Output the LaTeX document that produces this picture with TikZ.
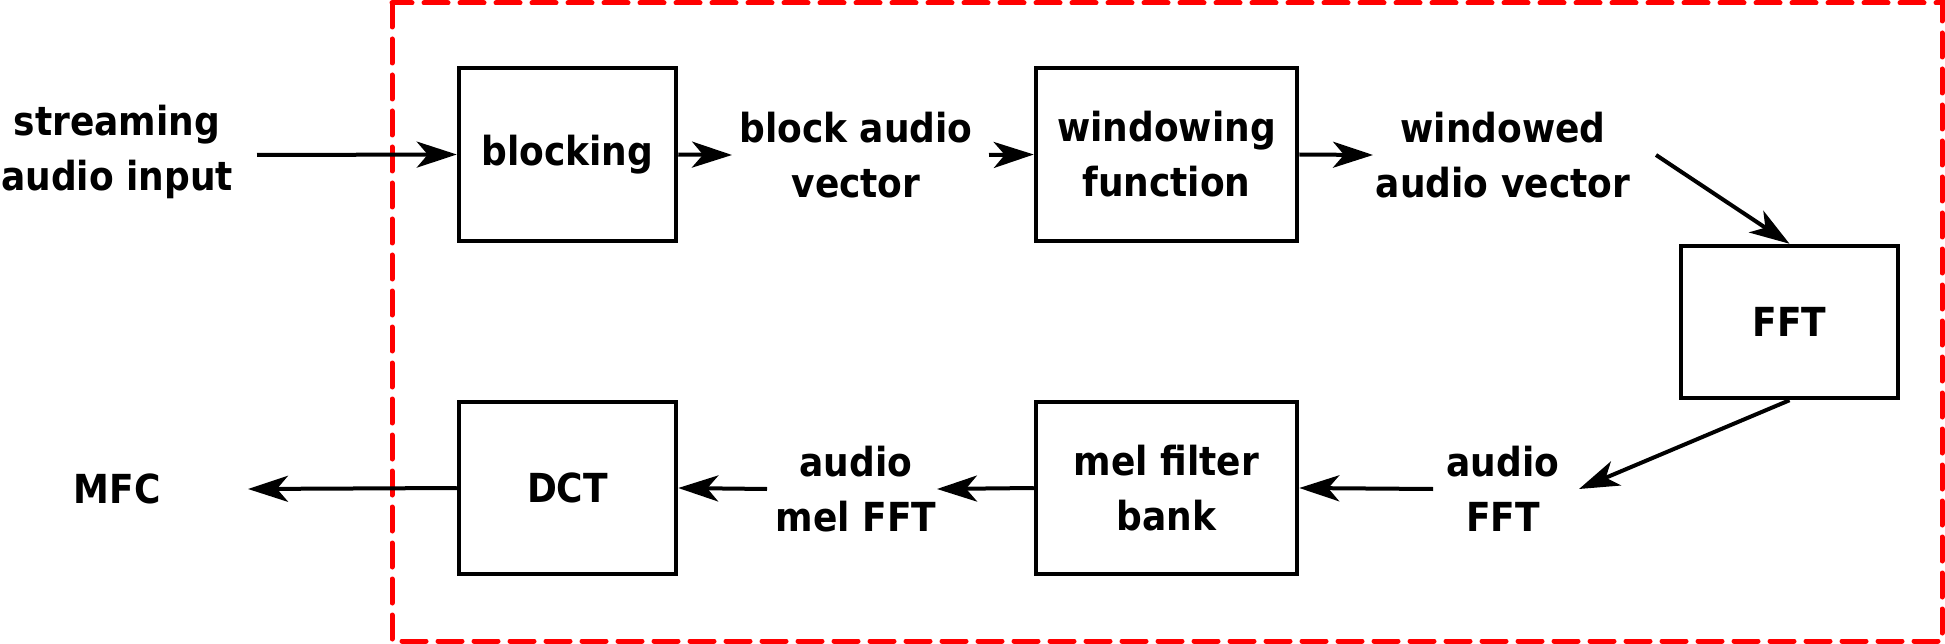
\documentclass[tikz,border=0pt]{standalone}
\usepackage{fontspec}
\setmainfont{DejaVu Sans Condensed}
\usetikzlibrary{arrows.meta}
\begin{document}
\begin{tikzpicture}[x=1pt,y=-1pt,
  every node/.style={font=\fontsize{40}{55}\selectfont\bfseries},
  box/.style={draw,line width=4.5pt,inner sep=0pt},
  lbl/.style={align=center,inner sep=6pt},
  conn/.style={line width=4pt,-{Stealth[length=40pt,width=26pt,inset=11pt]}},
  frame/.style={draw=red,line width=5pt,dash pattern=on 24pt off 12pt,line cap=round}]
\useasboundingbox (0,0) rectangle (1945,644);
\draw[frame] (392,3) rectangle (1942,641);
\node[box,minimum width=217pt,minimum height=173pt] (blocking) at (567.5,154.5) {blocking};
\node[box,minimum width=261pt,minimum height=173pt,align=center] (window) at (1166.5,154.5) {windowing\\function};
\node[box,minimum width=217pt,minimum height=152pt] (fft) at (1789.5,322) {FFT};
\node[box,minimum width=217pt,minimum height=172pt] (dct) at (567.5,488) {DCT};
\node[box,minimum width=261pt,minimum height=172pt,align=center] (mel) at (1166.5,488) {mel filter\\bank};
\node[lbl] (input) at (117,152) {streaming\\audio input};
\node[lbl] (bav) at (856,155) {block audio\\vector};
\node[lbl] (wav) at (1503,155) {windowed\\audio vector};
\node[lbl] (afft) at (1503,489) {audio\\FFT};
\node[lbl] (amfft) at (856,489) {audio\\mel FFT};
\node[lbl] (mfc) at (117,489) {MFC};
\coordinate (c1) at (257,155);
\coordinate (c2) at (732,155);
\coordinate (c3) at (989,155);
\coordinate (c4) at (1373,155);
\coordinate (c5) at (1656,155);
\coordinate (c6) at (1579,489);
\coordinate (c7) at (1433,489);
\coordinate (c8) at (937,489);
\coordinate (c9) at (767,489);
\coordinate (c10) at (248,489);
\draw[conn] (c1) -- (blocking.west);
\draw[conn] (blocking.east) -- (c2);
\draw[conn] (c3) -- (window.west);
\draw[conn] (window.east) -- (c4);
\draw[conn] (c5) -- (fft.north);
\draw[conn] (fft.south) -- (c6);
\draw[conn] (c7) -- (mel.east);
\draw[conn] (mel.west) -- (c8);
\draw[conn] (c9) -- (dct.east);
\draw[conn] (dct.west) -- (c10);
\end{tikzpicture}
\end{document}
